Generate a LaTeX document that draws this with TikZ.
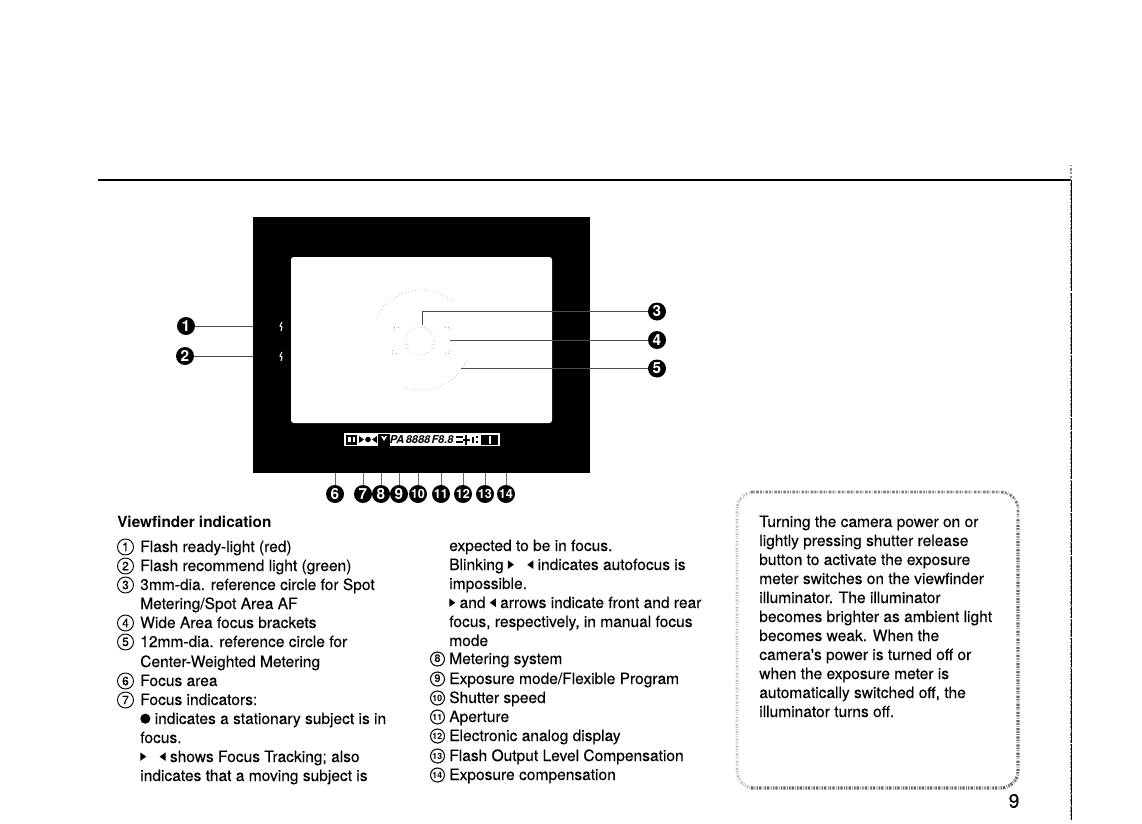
\documentclass[tikz,border=0pt]{standalone}
\usepackage{fontspec}
\setmainfont{TeX Gyre Heros}
\newfontfamily\bodyf[FakeBold=0.12]{TeX Gyre Heros}
\newcommand{\arrR}{\tikz[baseline=0pt,x=1pt,y=1pt]\fill (0,0.8)--(4.5,4)--(0,7.2)--cycle;}
\newcommand{\arrL}{\tikz[baseline=0pt,x=1pt,y=1pt]\fill (4.5,0.8)--(0,4)--(4.5,7.2)--cycle;}
\newcommand{\dotB}{\tikz[baseline=0pt,x=1pt,y=1pt]\fill (3.8,4) circle (3.8);}
\tikzset{
  x=0.75pt,y=-0.75pt,
  txt/.style={anchor=base west,inner sep=0,font=\bodyf\fontsize{11.65}{13}\selectfont,text=black},
  head/.style={anchor=base west,inner sep=0,font=\fontsize{11.5}{13}\bfseries\selectfont},
  num/.style={circle,draw=black,line width=0.7pt,inner sep=0,minimum size=12pt,font=\bodyf\fontsize{9}{9}\selectfont},
  midnum/.style={circle,draw=black,line width=0.8pt,inner sep=0,minimum size=10.5pt,font=\fontsize{8}{8}\bfseries\selectfont},
  badge/.style={circle,fill=black,text=white,inner sep=0,minimum size=13.5pt,font=\fontsize{11.5}{12}\bfseries\selectfont},
  leader/.style={draw=black!70,line width=0.7pt},
  tick/.style={draw=black!60,line width=0.45pt},
  faint/.style={draw=black!35,line width=0.5pt,dotted},
  bar/.style={fill=black,draw=none},
  lcd/.style={inner sep=0,font=\fontsize{8.2}{9}\bfseries\itshape\selectfont}
}
\begin{document}
\begin{tikzpicture}
\useasboundingbox (0,0) rectangle (1142,824);
\fill[white] (0,0) rectangle (1142,824);
% page rules
\coordinate (ruleL) at (98,180); \coordinate (ruleR) at (1071,180);
\coordinate (edgeT) at (1071,165); \coordinate (edgeB) at (1071,820);
\draw[black,line width=1.1pt] (ruleL) -- (ruleR);
\draw[black!45,line width=0.9pt,dash pattern=on 1pt off 1.5pt on 2pt off 1pt] (edgeT) -- (edgeB);
\draw[black,line width=0.7pt,dash pattern=on 14pt off 0.6pt on 22pt off 0.8pt on 9pt off 0.6pt] (ruleR) -- (edgeB);
% viewfinder
\fill[black] (253,217) rectangle (590,473);
\fill[white,rounded corners=2pt] (291,257) rectangle (552,423);
% reference circles
\draw[faint] (421,340) ++(-154:50) arc (-154:-50:50);
\draw[faint] (421,340) ++(25:50) arc (25:112:50);
\draw[faint] (420,341) circle (14);
\draw[faint] (394,330) -- (394,327) -- (398,327);
\draw[faint] (392,350) -- (392,353) -- (396,353);
\draw[faint] (449,330) -- (449,327) -- (445,327);
\draw[faint] (449,350) -- (449,353) -- (445,353);
% flash marks
\draw[white,line width=0.8pt] (282,322) -- (280,326) -- (282,327) -- (281,331);
\draw[white,line width=0.8pt] (282,352) -- (280,356) -- (282,357) -- (281,361);
% display strip
\fill[white] (344,433) rectangle (500,446);
\fill[bar] (346,435) rectangle (357,445);
\fill[white] (348,437) rectangle (350.5,442); \fill[white] (352.5,437) rectangle (355,442);
\fill[bar] (359,436) -- (364,439.5) -- (359,443) -- cycle;
\fill[bar] (368,439.5) circle (2.8);
\fill[bar] (377,436) -- (372,439.5) -- (377,443) -- cycle;
\fill[bar] (378,434) rectangle (390,446);
\fill[white] (381,436) -- (384,441) -- (387,436) -- (385,436) -- (384,438) -- (383,436) -- cycle;
\node[lcd] (mode) at (397,440) {PA};
\node[lcd] (shut) at (418,440) {8888};
\node[lcd] (aper) at (442.5,440) {F8.8};
\fill[bar] (456,436) rectangle (463,438); \fill[bar] (456,441) rectangle (463,443);
\fill[bar] (465,435) rectangle (467,445); \fill[bar] (463,439) rectangle (470,441);
\fill[bar] (472,437) rectangle (474,443); \fill[bar] (476,436) rectangle (478,438); \fill[bar] (476,441) rectangle (478,443);
\fill[bar] (481,435) rectangle (498,445);
\fill[white] (489,436) rectangle (490.5,444);
% side badges and leaders
\node[badge] (b1) at (186,326) {1};
\node[badge] (b2) at (185,356) {2};
\node[badge] (b3) at (657,311.5) {3};
\node[badge] (b4) at (657,340) {4};
\node[badge] (b5) at (657,368.5) {5};
\coordinate (t1) at (253,326); \coordinate (t2) at (253,356);
\coordinate (t3a) at (422,311.5); \coordinate (t3) at (422,325);
\coordinate (t4) at (450,340); \coordinate (t5) at (461,368.5);
\draw[leader] (b1) -- (t1);
\draw[leader] (b2) -- (t2);
\draw[leader] (b3) -- (t3a) -- (t3);
\draw[leader] (b4) -- (t4);
\draw[leader] (b5) -- (t5);
% bottom badges
\foreach \n/\xx in {6/335,7/363,8/381,9/399,10/418,11/441,12/463,13/485,14/506}{
  \coordinate (d\n) at (\xx,473);
  \node[badge] (c\n) at (\xx,494) {\ifnum\n>9 \fontsize{9.5}{9}\selectfont\kern-0.3pt\fi\n};
  \draw[tick] (c\n) -- (d\n);
}
% left column
\node[head] (h) at (117,527) {Viewfinder indication};
\foreach \n/\yy/\tx in {
 1/552/{Flash ready-light (red)},
 2/571/{Flash recommend light (green)},
 3/590/{3mm-dia. reference circle for Spot},
 4/628/{Wide Area focus brackets},
 5/647/{12mm-dia. reference circle for},
 6/686/{Focus area},
 7/705/{Focus indicators:}}{
  \node[num] (n\n) at (125.5,\yy-5) {\n};
  \node[txt] (l\n) at (140,\yy) {\tx};
}
\node[txt] (l3b) at (140,609) {Metering/Spot Area AF};
\node[txt] (l5b) at (140,667) {Center-Weighted Metering};
\node[txt] (l7a) at (140,724) {\dotB\ indicates a stationary subject is in};
\node[txt] (l7b) at (140,743) {focus.};
\node[txt] (l7c) at (140,762) {\arrR\hspace{10pt}\arrL\ shows Focus Tracking; also};
\node[txt] (l7d) at (140,781) {indicates that a moving subject is};
% middle column
\node[txt] (m1) at (449,551) {expected to be in focus.};
\node[txt] (m2) at (449,570) {Blinking \arrR\hspace{10pt}\arrL\ indicates autofocus is};
\node[txt] (m3) at (449,589) {impossible.};
\node[txt] (m4) at (449,608) {\arrR\ and \arrL\ arrows indicate front and rear};
\node[txt] (m5) at (449,627) {focus, respectively, in manual focus};
\node[txt] (m6) at (449,646) {mode};
\foreach \n/\yy/\tx in {
 8/664/{Metering system},
 9/684/{Exposure mode/Flexible Program},
 10/703/{Shutter speed},
 11/722/{Aperture},
 12/741/{Electronic analog display},
 13/761/{Flash Output Level Compensation},
 14/780/{Exposure compensation}}{
  \node[midnum] (n\n) at (437.5,\yy-5) {\ifnum\n>9 \fontsize{6.5}{6}\selectfont\kern-0.3pt\fi\n};
  \node[txt] (l\n) at (449,\yy) {\tx};
}
% note box
\draw[black!28,line width=2.2pt,dash pattern=on 0.6pt off 1pt on 1.2pt off 1.4pt on 0.5pt off 0.8pt,rounded corners=13pt] (751,788) -- (737,788) -- (737,492) -- (751,492);
\draw[black!50,line width=2pt,dash pattern=on 1.4pt off 0.8pt on 0.5pt off 1.2pt on 2pt off 0.9pt,rounded corners=13pt] (751,492) -- (1018,492) -- (1018,520);
\draw[black!60,line width=2.4pt,dash pattern=on 1.1pt off 0.9pt on 0.5pt off 1.1pt on 1.7pt off 0.8pt,rounded corners=13pt] (1018,520) -- (1018,788) -- (751,788);
\foreach \k/\yy/\tx in {
 1/527/{Turning the camera power on or},
 2/546/{lightly pressing shutter release},
 3/565/{button to activate the exposure},
 4/584/{meter switches on the viewfinder},
 5/603/{illuminator. The illuminator},
 6/622/{becomes brighter as ambient light},
 7/641/{becomes weak. When the},
 8/660/{camera's power is turned off or},
 9/679/{when the exposure meter is},
 10/698/{automatically switched off, the},
 11/717/{illuminator turns off.}}{
  \node[txt] (r\k) at (759,\yy) {\tx};
}
\node[inner sep=0,font=\bodyf\fontsize{14.5}{14}\selectfont] (pg) at (1014,801) {9};
\end{tikzpicture}
\end{document}
